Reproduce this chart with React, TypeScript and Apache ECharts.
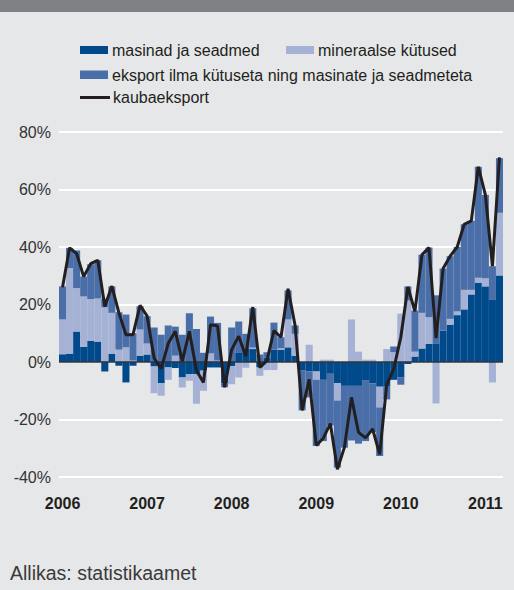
import React, { useEffect, useRef } from "react";
import * as echarts from "echarts";

const years = ["2006", "2007", "2008", "2009", "2010", "2011"];
const monthsInLastYear = 3;

const categories: string[] = [];
years.forEach((y, yi) => {
  const n = yi === years.length - 1 ? monthsInLastYear : 12;
  for (let m = 1; m <= n; m++) categories.push(`${y}-${String(m).padStart(2, "0")}`);
});

const masinad = [
  2.7, 2.9, 10.6, 5.3, 7.4, 7.1, -3.3, 2.9, -1.3, -7.1, -1.3, 2.2,
  2.6, -1.6, -7.4, -1.9, -2.1, -5.4, -4.2, -4.2, -3.0, -1.9, -1.9, -7.5,
  -1.5, 3.1, 4.5, 4.5, -1.9, 1.5, 4.3, 4.3, 5.1, 2.2, -3.0, -3.3,
  -3.3, -6.2, -4.1, -7.4, -8.3, -8.3, -8.3, -6.5, -7.4, -8.6, -8.6, -6.2,
  -5.4, -0.7, 1.9, 4.7, 6.3, 6.5, 10.9, 13.0, 16.3, 18.3, 23.5, 27.6,
  26.3, 21.8, 30.1,
];

const mineraalse = [
  12.1, 29.8, 15.1, 17.5, 14.5, 15.0, 19.0, 14.2, 4.3, 5.1, 0.5, 9.1,
  3.8, -9.3, -4.3, -4.3, 2.2, -3.5, -2.3, -10.3, -7.0, 3.0, 0.5, 0,
  -6.2, -5.4, -2.0, 0.5, -2.9, -2.8, -2.8, 0.5, 9.7, 7.6, 0, 6.0,
  -2.9, 0.8, 0.8, -6.0, 0, 14.8, 3.6, 0.8, 0.8, -7.2, 4.5, 3.4,
  16.8, 21.4, 1.7, 12.4, 9.3, -14.4, 0, 2.0, 1.3, 6.8, 1.6, 1.7,
  2.8, -7.1, 21.8,
];

const eksportMuu = [
  11.5, 7.0, 13.1, 6.9, 12.1, 13.3, 3.0, 9.2, 13.0, 11.4, 9.5, 8.1,
  9.5, 12.0, 9.5, 12.7, 10.1, 9.5, 17.0, 11.5, 3.2, 12.8, 13.1, -1.3,
  12.0, 11.0, 5.3, 13.7, 2.6, 1.9, 9.4, 3.8, 10.1, 2.9, -13.8, -9.0,
  -23.0, -21.3, -18.0, -23.3, -21.5, -19.0, -20.1, -21.0, -17.0, -16.9, -4.4, 2.0,
  -2.5, 4.9, 14.3, 20.2, 24.2, 16.7, 21.6, 21.8, 22.4, 22.8, 24.0, 38.6,
  29.0, 11.5, 19.0,
];

const kaubaeksport = [
  26.0, 39.7, 37.7, 29.7, 34.2, 35.4, 19.3, 26.4, 17.1, 9.5, 9.5, 19.7,
  16.0, 1.3, -2.3, 6.5, 10.7, 0.3, 10.7, -3.0, -7.1, 13.0, 12.5, -8.8,
  4.3, 9.0, 2.0, 19.1, -1.9, 0.5, 10.9, 8.6, 25.5, 12.7, -16.8, -6.0,
  -29.0, -26.5, -21.4, -37.3, -29.7, -12.3, -24.5, -26.4, -23.3, -32.1, -7.9, -2.4,
  8.6, 26.1, 17.6, 37.3, 39.8, 8.3, 32.5, 36.8, 40.0, 47.9, 49.1, 67.9,
  58.1, 33.3, 71.2,
];

const names = [
  "masinad ja seadmed",
  "mineraalse kütused",
  "eksport ilma kütuseta ning masinate ja seadmeteta",
  "kaubaeksport",
];

const C_DARK = "#004a8c";
const C_LIGHT = "#a5b2d5";
const C_MID = "#4a6ea8";
const C_LINE = "#231f20";
const BG = "#e6e7e8";
const FONT = "'Liberation Sans', Arial, Helvetica, sans-serif";

export default function App() {
  const ref = useRef<HTMLDivElement>(null);

  useEffect(() => {
    if (!ref.current) return;
    const chart = echarts.init(ref.current, undefined, { renderer: "svg" });
    const legendText = (x: number, y: number, t: string) => ({
      type: "text",
      x,
      y,
      style: { text: t, font: `16px ${FONT}`, fill: C_LINE, verticalAlign: "middle", align: "left" },
    });
    chart.setOption({
      animation: false,
      backgroundColor: BG,
      textStyle: { fontFamily: FONT },
      grid: { left: 59, right: 11, top: 132, bottom: 113, containLabel: false },
      xAxis: {
        type: "category",
        data: categories,
        axisLine: { show: false, onZero: false },
        axisTick: { show: false },
        splitLine: { show: false },
        axisLabel: {
          interval: (i: number) => i % 12 === 0,
          formatter: (v: string) => v.slice(0, 4),
          fontWeight: "bold",
          fontSize: 16,
          color: C_LINE,
          margin: 18,
          fontFamily: FONT,
        },
      },
      yAxis: {
        type: "value",
        min: -40,
        max: 80,
        interval: 20,
        axisLine: { show: false },
        axisTick: { show: false },
        splitLine: { lineStyle: { color: "#ffffff", width: 2 } },
        axisLabel: {
          formatter: "{value}%",
          fontSize: 16,
          color: "#333333",
          margin: 8,
          fontFamily: FONT,
        },
      },
      series: [
        {
          name: names[0],
          type: "bar",
          stack: "a",
          data: masinad,
          barCategoryGap: 0,
          itemStyle: { color: C_DARK },
        },
        {
          name: names[1],
          type: "bar",
          stack: "a",
          data: mineraalse,
          itemStyle: { color: C_LIGHT },
        },
        {
          name: names[2],
          type: "bar",
          stack: "a",
          data: eksportMuu,
          itemStyle: { color: C_MID },
        },
        {
          name: names[3],
          type: "line",
          data: kaubaeksport,
          symbol: "none",
          z: 5,
          lineStyle: { color: C_LINE, width: 3 },
          markLine: {
            silent: true,
            symbol: "none",
            label: { show: false },
            lineStyle: { color: "#333333", width: 1.5, type: "solid" },
            data: [{ yAxis: 0 }],
          },
        },
      ],
      graphic: [
        { type: "rect", shape: { x: 0, y: 0, width: 514, height: 12 }, style: { fill: "#808184" } },
        { type: "rect", shape: { x: 80, y: 46, width: 28, height: 8 }, style: { fill: C_DARK } },
        legendText(112, 50, names[0]),
        { type: "rect", shape: { x: 286, y: 46, width: 28, height: 8 }, style: { fill: C_LIGHT } },
        legendText(318, 50, names[1]),
        { type: "rect", shape: { x: 80, y: 70.5, width: 28, height: 8.5 }, style: { fill: C_MID } },
        legendText(112, 75, names[2]),
        {
          type: "line",
          shape: { x1: 80, y1: 97.5, x2: 110, y2: 97.5 },
          style: { stroke: C_LINE, lineWidth: 3 },
        },
        legendText(113, 97, names[3]),
        {
          type: "text",
          x: 10,
          y: 573,
          style: {
            text: "Allikas: statistikaamet",
            font: `19.5px ${FONT}`,
            fill: "#3a3a3a",
            verticalAlign: "middle",
          },
        },
      ],
    });
    return () => chart.dispose();
  }, []);

  return (
    <div
      ref={ref}
      style={{ position: "absolute", left: 0, top: 0, width: 514, height: 590, background: BG }}
    />
  );
}
